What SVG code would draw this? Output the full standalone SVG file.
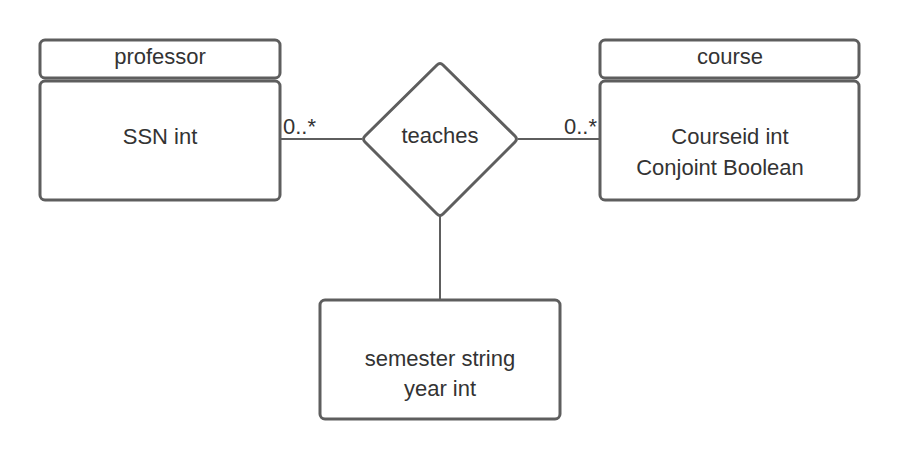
<svg xmlns="http://www.w3.org/2000/svg" width="900" height="460" viewBox="0 0 900 460">
<style>
.box{fill:#fff;stroke:#5e5e5e;stroke-width:3}
.ln{fill:none;stroke:#5e5e5e;stroke-width:2}
text{font-family:"Liberation Sans",Arial,sans-serif;font-size:22px;fill:#333}
.c{text-anchor:middle}
</style>
<rect width="900" height="460" fill="#fff"/>
<g id="connectors">
<line class="ln" x1="280" y1="139" x2="362" y2="139"/>
<line class="ln" x1="518" y1="139" x2="600" y2="139"/>
<line class="ln" x1="440" y1="216" x2="440" y2="300"/>
<text x="283" y="134" font-size="21">0..*</text>
<text x="597" y="134" font-size="21" text-anchor="end">0..*</text>
</g>
<g id="professor">
<rect class="box" x="40" y="40" width="240" height="38" rx="5"/>
<rect class="box" x="40" y="81" width="240" height="119" rx="5"/>
<text class="c" x="160" y="64">professor</text>
<text class="c" x="160" y="144">SSN int</text>
</g>
<g id="course">
<rect class="box" x="600" y="40" width="259" height="38" rx="5"/>
<rect class="box" x="600" y="81" width="259" height="119" rx="5"/>
<text class="c" x="730" y="64">course</text>
<text class="c" x="730" y="144">Courseid int</text>
<text class="c" x="720" y="175">Conjoint Boolean</text>
</g>
<g id="teaches">
<path class="box" d="M437,65 Q440,62 443,65 L515,136 Q518,139 515,142 L443,214 Q440,217 437,214 L365,142 Q362,139 365,136 Z" stroke-linejoin="round"/>
<text class="c" x="440" y="143">teaches</text>
</g>
<g id="relationship-attributes">
<rect class="box" x="320" y="300" width="240" height="119" rx="5"/>
<text class="c" x="440" y="366">semester string</text>
<text class="c" x="440" y="396">year int</text>
</g>
</svg>
